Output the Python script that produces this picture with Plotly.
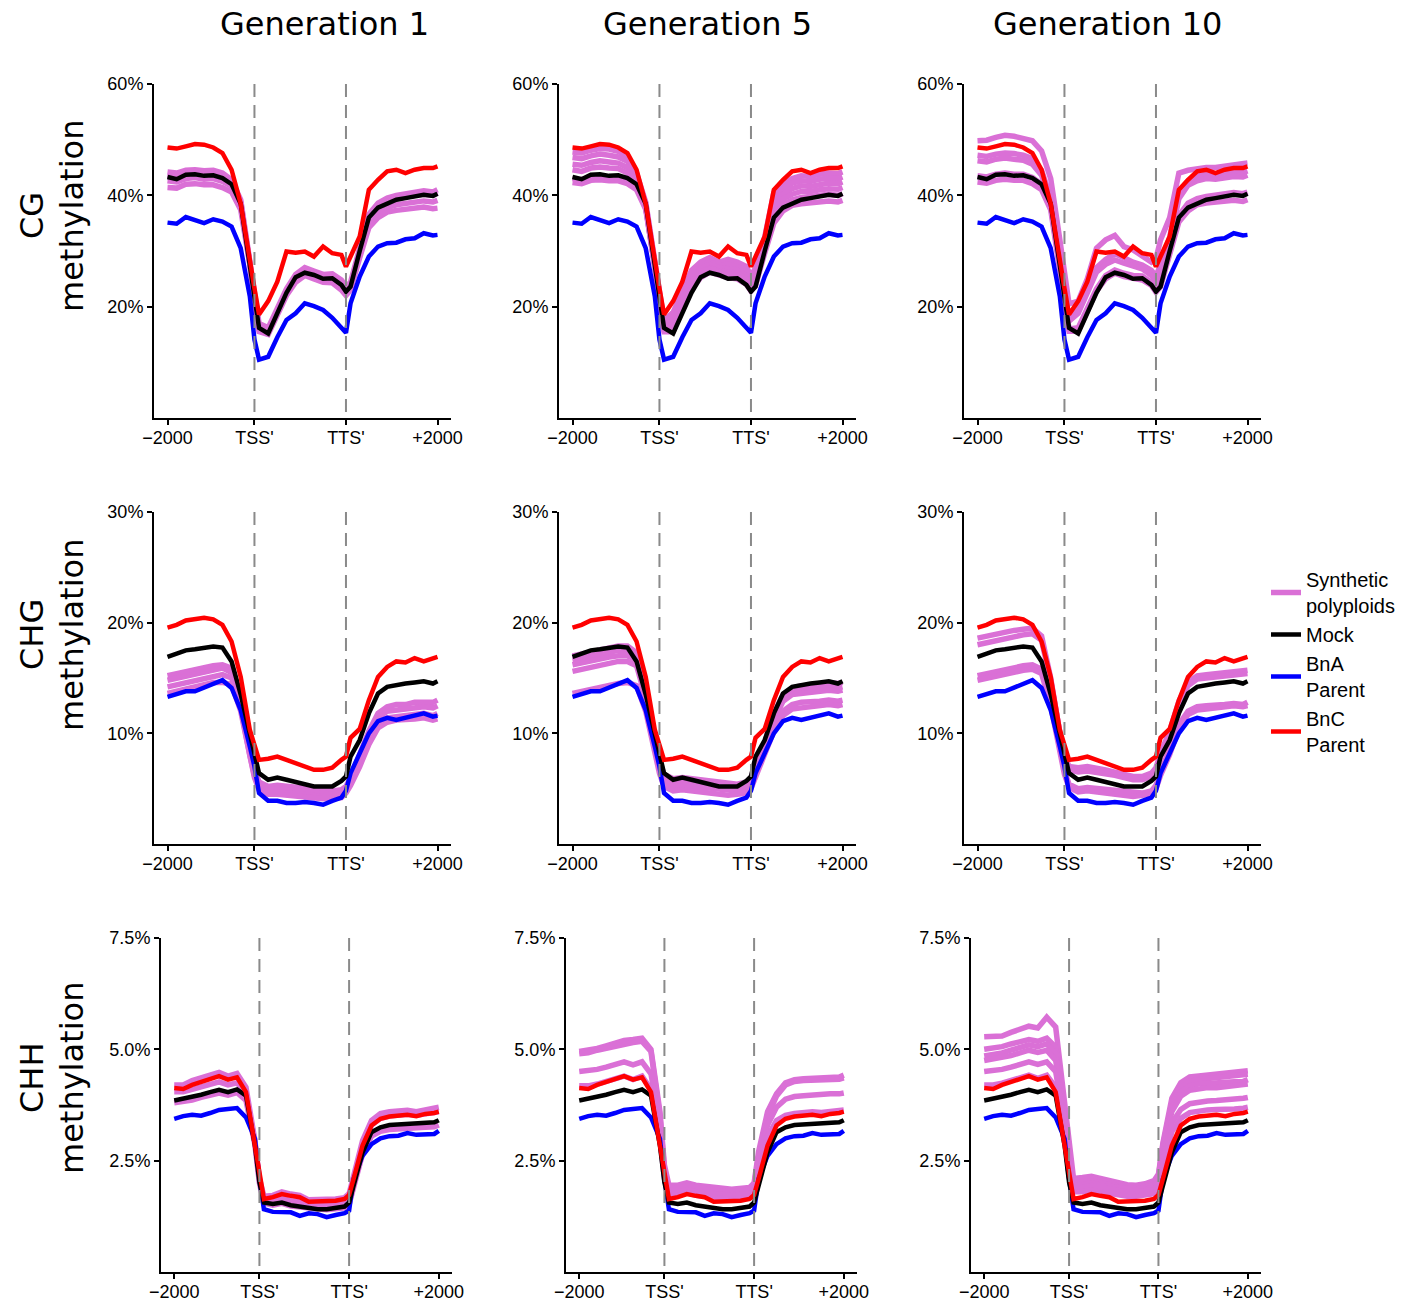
import plotly.graph_objects as go

# ---------------- data ----------------
X_BINS = [1, 3, 5, 7, 9, 11, 13, 15, 17, 19, 20, 21, 23, 25, 27, 29, 31, 33, 35, 37, 39,
          40, 41, 43, 45, 47, 49, 51, 53, 55, 57, 59, 60]
X_TICK_VALS = [1, 20, 40, 60]
X_TICK_TEXT = ["\u22122000", "TSS'", "TTS'", "+2000"]
BOUNDARY_BINS = [20, 40]

GENERATIONS = ["Generation 1", "Generation 5", "Generation 10"]
CONTEXTS = ["CG", "CHG", "CHH"]
Y_MAX = [60, 30, 7.5]
Y_TICK_VALS = [[20, 40, 60], [10, 20, 30], [2.5, 5.0, 7.5]]
Y_TICK_TEXT = [["20%", "40%", "60%"], ["10%", "20%", "30%"], ["2.5%", "5.0%", "7.5%"]]

# CG methylation (%)
CG_BNC = [48.6, 48.4, 48.8, 49.2, 49.1, 48.6, 47.6, 44.6, 38.5, 27.5, 23.3, 18.6, 21.0, 24.5, 29.9, 29.7, 29.9, 29.0, 30.8, 29.6, 29.3,
          27.2, 29.0, 32.6, 41.0, 42.8, 44.3, 44.6, 44.0, 44.6, 44.9, 44.9, 45.2]
CG_MOCK = [43.3, 42.9, 43.7, 43.8, 43.5, 43.6, 43.1, 42.0, 38.5, 27.8, 21.2, 16.2, 15.2, 19.0, 22.5, 25.3, 26.1, 25.7, 25.0, 25.1, 23.9,
           22.7, 23.6, 30.0, 36.0, 37.8, 38.6, 39.2, 39.5, 39.8, 40.1, 39.9, 40.3]
CG_BNA = [35.1, 34.9, 36.1, 35.5, 35.0, 35.7, 35.3, 34.4, 30.5, 21.8, 14.1, 10.5, 11.0, 14.5, 17.6, 18.8, 20.6, 20.1, 19.4, 18.0, 16.2,
          15.3, 20.6, 25.4, 29.0, 30.8, 31.4, 31.5, 32.1, 32.3, 33.2, 32.8, 32.9]
CG_SYN_GEN1 = [
    [44.2, 44.0, 44.5, 44.6, 44.4, 44.5, 44.0, 42.8, 39.2, 28.5, 21.8, 17.0, 16.2, 19.8, 23.2, 25.8, 27.0, 26.4, 25.8, 25.9, 24.8,
     23.6, 24.4, 30.5, 36.6, 38.6, 39.5, 40.0, 40.3, 40.6, 40.8, 40.6, 41.0],
    [43.6, 43.3, 43.9, 44.0, 43.7, 43.8, 43.3, 42.3, 38.8, 28.0, 21.2, 16.4, 15.6, 19.4, 22.8, 25.2, 26.4, 25.9, 25.2, 25.3, 24.1,
     22.9, 23.8, 30.0, 36.2, 38.0, 38.9, 39.4, 39.8, 40.0, 40.2, 40.0, 40.4],
    [42.6, 42.4, 43.0, 43.2, 42.9, 43.0, 42.5, 41.6, 38.2, 27.8, 20.9, 15.9, 15.3, 19.1, 22.4, 24.8, 26.0, 25.4, 24.8, 24.8, 23.6,
     22.5, 23.4, 29.4, 35.0, 36.8, 37.8, 38.3, 38.6, 38.8, 39.0, 38.8, 39.1],
    [41.4, 41.3, 42.0, 42.1, 41.9, 41.9, 41.4, 40.6, 37.4, 27.5, 20.5, 15.5, 15.0, 18.8, 22.0, 24.4, 25.6, 25.0, 24.4, 24.3, 23.0,
     22.0, 23.0, 28.8, 34.2, 36.0, 37.0, 37.3, 37.5, 37.8, 37.9, 37.6, 37.7],
]
CG_SYN_GEN5 = [
    [47.8, 47.6, 48.1, 48.4, 48.3, 47.9, 47.0, 44.0, 38.8, 27.5, 22.0, 17.5, 19.0, 22.5, 26.5, 28.0, 28.8, 28.0, 28.5, 28.0, 27.2,
     25.5, 27.0, 32.5, 40.5, 42.0, 43.0, 43.5, 43.4, 43.8, 44.0, 43.9, 44.2],
    [46.8, 46.6, 47.1, 47.4, 47.2, 46.9, 46.1, 43.5, 38.5, 27.2, 21.5, 17.0, 18.2, 21.8, 25.8, 27.3, 28.0, 27.4, 27.6, 27.2, 26.4,
     24.8, 26.2, 32.0, 39.6, 41.2, 42.2, 42.6, 42.5, 42.9, 43.1, 43.0, 43.3],
    [45.6, 45.4, 45.9, 46.2, 46.0, 45.8, 45.0, 42.8, 38.0, 27.0, 21.0, 16.5, 17.6, 21.2, 25.0, 26.8, 27.6, 27.0, 26.8, 26.6, 25.5,
     24.2, 25.5, 31.4, 38.6, 40.2, 41.2, 41.7, 41.6, 42.0, 42.2, 42.1, 42.4],
    [44.6, 44.3, 44.9, 45.1, 44.9, 44.8, 44.0, 42.2, 37.8, 26.8, 20.8, 16.2, 17.0, 20.6, 24.5, 26.2, 27.0, 26.4, 26.2, 26.0, 25.0,
     23.8, 25.0, 31.0, 37.6, 39.4, 40.2, 40.7, 40.7, 41.0, 41.2, 41.1, 41.4],
    [43.0, 42.8, 43.3, 43.5, 43.3, 43.3, 42.7, 41.5, 37.8, 27.4, 20.4, 15.8, 16.0, 20.0, 23.5, 25.8, 26.8, 26.2, 25.8, 25.6, 24.5,
     23.2, 24.2, 30.2, 36.2, 38.4, 39.2, 39.6, 39.8, 40.0, 40.2, 40.0, 40.3],
    [42.3, 42.1, 42.7, 42.8, 42.6, 42.6, 42.1, 41.0, 37.5, 27.2, 20.2, 15.5, 15.5, 19.6, 23.0, 25.2, 26.2, 25.6, 25.2, 25.0, 24.0,
     22.8, 23.8, 29.6, 35.0, 37.2, 38.2, 38.5, 38.7, 38.9, 39.0, 38.8, 39.1],
]
CG_SYN_GEN10 = [
    [49.8, 49.9, 50.4, 50.8, 50.6, 50.2, 49.8, 48.0, 43.0, 32.0, 26.0, 20.5, 21.0, 25.0, 30.5, 32.0, 32.8, 30.8, 30.2, 29.2, 28.0,
     28.6, 32.0, 36.0, 44.0, 44.5, 44.8, 45.0, 45.0, 45.2, 45.5, 45.6, 45.8],
    [47.2, 47.0, 47.4, 47.6, 47.5, 47.2, 46.6, 44.5, 39.5, 28.0, 22.0, 17.8, 19.5, 23.0, 27.0, 28.5, 29.5, 28.8, 28.0, 27.5, 26.5,
     25.5, 27.5, 32.5, 40.5, 42.6, 43.5, 43.8, 43.7, 44.0, 44.2, 44.1, 44.4],
    [46.2, 46.0, 46.5, 46.7, 46.5, 46.3, 45.6, 43.6, 39.0, 27.6, 21.6, 17.4, 18.8, 22.4, 26.2, 27.6, 28.4, 27.8, 27.2, 26.8, 25.6,
     24.6, 26.5, 31.5, 39.4, 41.8, 42.6, 43.0, 42.9, 43.2, 43.4, 43.3, 43.6],
    [43.5, 43.3, 43.8, 44.0, 43.8, 43.8, 43.2, 42.0, 38.0, 27.5, 20.8, 16.0, 16.2, 19.8, 23.2, 25.6, 26.6, 26.0, 25.6, 25.5, 24.4,
     23.2, 24.2, 30.4, 36.4, 38.6, 39.4, 39.8, 40.0, 40.2, 40.5, 40.3, 40.6],
    [42.4, 42.2, 42.7, 42.9, 42.7, 42.7, 42.1, 41.0, 37.4, 27.0, 20.3, 15.6, 15.6, 19.4, 22.8, 25.0, 26.0, 25.4, 25.0, 24.8, 23.8,
     22.6, 23.6, 29.6, 35.2, 37.2, 38.3, 38.6, 38.8, 39.0, 39.1, 38.9, 39.2],
]

# CHG methylation (%)
CHG_BNC = [19.55, 19.8, 20.2, 20.3, 20.45, 20.3, 19.8, 18.3, 15.1, 10.3, 8.8, 7.6, 7.7, 7.9, 7.6, 7.3, 7.0, 6.7, 6.7, 6.9, 7.6,
           7.9, 9.6, 10.4, 13.0, 15.1, 16.0, 16.5, 16.4, 16.8, 16.5, 16.7, 16.9]
CHG_MOCK = [16.9, 17.2, 17.5, 17.6, 17.75, 17.85, 17.75, 16.5, 13.5, 9.8, 8.2, 6.4, 5.8, 6.0, 5.8, 5.6, 5.5, 5.2, 5.2, 5.2, 5.7,
            6.1, 7.9, 9.4, 11.8, 13.6, 14.2, 14.4, 14.5, 14.6, 14.7, 14.5, 14.7]
CHG_BNA = [13.3, 13.6, 13.8, 13.8, 14.1, 14.4, 14.8, 14.1, 12.1, 8.8, 7.0, 4.6, 3.9, 3.9, 3.7, 3.7, 3.8, 3.7, 3.55, 3.9, 4.2,
           4.8, 6.4, 8.2, 10.0, 11.1, 11.4, 11.2, 11.4, 11.7, 11.8, 11.5, 11.6]
CHG_SYN_GEN1 = [
    [15.2, 15.4, 15.6, 15.8, 16.0, 16.1, 16.2, 15.9, 13.0, 8.5, 6.8, 5.6, 5.2, 5.3, 5.2, 5.1, 5.0, 4.9, 4.8, 4.8, 4.9,
     5.2, 6.0, 8.0, 10.2, 11.8, 12.4, 12.6, 12.6, 12.8, 12.8, 12.8, 13.0],
    [14.8, 15.0, 15.2, 15.4, 15.6, 15.8, 15.9, 15.5, 12.6, 8.3, 6.5, 5.3, 4.9, 5.0, 4.9, 4.8, 4.7, 4.6, 4.5, 4.5, 4.6,
     5.0, 5.8, 7.7, 9.8, 11.4, 12.0, 12.1, 12.2, 12.3, 12.4, 12.3, 12.5],
    [14.2, 14.4, 14.6, 14.8, 15.0, 15.2, 15.3, 15.0, 12.3, 8.0, 6.2, 5.0, 4.6, 4.7, 4.6, 4.5, 4.4, 4.3, 4.3, 4.3, 4.4,
     4.8, 5.5, 7.4, 9.4, 10.9, 11.4, 11.5, 11.6, 11.7, 11.8, 11.6, 11.8],
    [13.6, 13.8, 14.0, 14.1, 14.4, 14.6, 14.6, 14.4, 12.0, 7.8, 6.0, 4.9, 4.5, 4.5, 4.4, 4.3, 4.2, 4.2, 4.1, 4.1, 4.2,
     4.6, 5.3, 7.0, 9.0, 10.5, 11.0, 11.2, 11.2, 11.3, 11.4, 11.2, 11.3],
]
CHG_SYN_GEN5 = [
    [17.0, 17.2, 17.4, 17.6, 17.8, 17.9, 17.9, 17.3, 14.2, 9.5, 7.5, 6.3, 5.9, 6.0, 5.9, 5.8, 5.6, 5.5, 5.4, 5.4, 5.6,
     6.0, 7.2, 9.2, 11.8, 13.5, 14.1, 14.3, 14.3, 14.5, 14.6, 14.5, 14.6],
    [16.6, 16.8, 17.0, 17.2, 17.3, 17.5, 17.5, 17.0, 13.9, 9.3, 7.3, 6.1, 5.7, 5.8, 5.7, 5.6, 5.4, 5.3, 5.2, 5.2, 5.4,
     5.8, 7.0, 9.0, 11.5, 13.2, 13.8, 14.0, 14.0, 14.2, 14.2, 14.1, 14.2],
    [16.2, 16.4, 16.6, 16.8, 16.9, 17.0, 17.0, 16.6, 13.6, 9.1, 7.1, 5.9, 5.5, 5.6, 5.5, 5.4, 5.2, 5.1, 5.0, 5.0, 5.2,
     5.6, 6.8, 8.8, 11.2, 12.9, 13.5, 13.6, 13.7, 13.8, 13.9, 13.8, 13.9],
    [15.6, 15.8, 16.0, 16.2, 16.3, 16.5, 16.5, 16.1, 13.2, 8.9, 6.9, 5.6, 5.2, 5.3, 5.2, 5.1, 5.0, 4.9, 4.8, 4.8, 5.0,
     5.4, 6.5, 8.4, 10.6, 12.0, 12.6, 12.8, 12.8, 12.9, 13.0, 12.9, 13.0],
    [13.6, 13.8, 14.0, 14.1, 14.3, 14.5, 14.6, 14.3, 12.0, 8.2, 6.4, 5.2, 4.8, 4.9, 4.8, 4.7, 4.6, 4.5, 4.4, 4.5, 4.6,
     5.0, 6.0, 8.0, 10.2, 11.6, 12.2, 12.3, 12.4, 12.5, 12.6, 12.5, 12.6],
]
CHG_SYN_GEN10 = [
    [18.6, 18.8, 19.0, 19.2, 19.3, 19.4, 19.5, 18.8, 15.0, 10.0, 8.0, 7.0, 6.9, 7.0, 6.9, 6.7, 6.5, 6.3, 6.1, 6.1, 6.4,
     6.9, 8.2, 10.2, 12.9, 14.6, 15.2, 15.3, 15.4, 15.5, 15.6, 15.6, 15.7],
    [18.0, 18.2, 18.4, 18.6, 18.8, 18.9, 19.0, 18.4, 14.7, 9.8, 7.8, 6.7, 6.5, 6.6, 6.5, 6.3, 6.2, 6.0, 5.8, 5.8, 6.1,
     6.6, 7.9, 9.9, 12.6, 14.3, 14.9, 15.0, 15.1, 15.2, 15.3, 15.3, 15.4],
    [15.2, 15.4, 15.6, 15.8, 16.0, 16.1, 16.2, 15.8, 12.8, 8.4, 6.6, 5.4, 5.0, 5.1, 5.0, 4.9, 4.8, 4.7, 4.6, 4.6, 4.8,
     5.3, 6.5, 8.5, 10.8, 12.0, 12.4, 12.5, 12.5, 12.6, 12.7, 12.6, 12.8],
    [14.8, 15.0, 15.2, 15.4, 15.6, 15.7, 15.8, 15.4, 12.5, 8.2, 6.3, 5.1, 4.7, 4.8, 4.7, 4.6, 4.5, 4.4, 4.3, 4.4, 4.5,
     5.0, 6.2, 8.1, 10.4, 11.7, 12.1, 12.2, 12.3, 12.4, 12.5, 12.4, 12.5],
]

# CHH methylation (%)
CHH_BNC = [4.13, 4.11, 4.2, 4.26, 4.34, 4.4, 4.32, 4.37, 4.04, 2.84, 2.09, 1.64, 1.68, 1.75, 1.71, 1.68, 1.58, 1.58, 1.58, 1.6, 1.64,
           1.73, 2.09, 2.84, 3.29, 3.44, 3.49, 3.51, 3.53, 3.5, 3.55, 3.57, 3.6]
CHH_MOCK = [3.85, 3.89, 3.92, 3.98, 4.04, 4.09, 4.04, 4.1, 3.96, 2.84, 2.01, 1.56, 1.53, 1.56, 1.5, 1.47, 1.45, 1.41, 1.41, 1.45, 1.47,
            1.56, 1.94, 2.69, 3.14, 3.25, 3.3, 3.31, 3.32, 3.32, 3.35, 3.36, 3.41]
CHH_BNA = [3.44, 3.5, 3.53, 3.51, 3.57, 3.64, 3.66, 3.68, 3.47, 2.99, 2.09, 1.41, 1.35, 1.35, 1.34, 1.26, 1.32, 1.3, 1.23, 1.28, 1.32,
           1.38, 2.09, 2.61, 2.87, 3.0, 3.05, 3.06, 3.12, 3.08, 3.1, 3.1, 3.17]
CHH_SYN_GEN1 = [
    [4.2, 4.2, 4.3, 4.35, 4.42, 4.48, 4.4, 4.46, 4.15, 2.95, 2.1, 1.7, 1.72, 1.8, 1.75, 1.72, 1.62, 1.62, 1.62, 1.64, 1.67,
     1.76, 2.15, 2.95, 3.4, 3.56, 3.6, 3.62, 3.63, 3.6, 3.65, 3.67, 3.7],
    [4.05, 4.05, 4.1, 4.15, 4.22, 4.27, 4.2, 4.25, 4.0, 2.9, 2.05, 1.6, 1.6, 1.66, 1.6, 1.58, 1.52, 1.5, 1.5, 1.52, 1.55,
     1.65, 2.05, 2.85, 3.3, 3.45, 3.5, 3.52, 3.54, 3.52, 3.56, 3.58, 3.6],
    [3.8, 3.82, 3.86, 3.92, 3.98, 4.02, 3.97, 4.03, 3.85, 2.85, 2.0, 1.55, 1.5, 1.54, 1.48, 1.46, 1.43, 1.4, 1.4, 1.42, 1.44,
     1.52, 1.9, 2.65, 3.05, 3.16, 3.2, 3.22, 3.22, 3.24, 3.25, 3.26, 3.3],
]
CHH_SYN_GEN5 = [
    [4.95, 4.98, 5.02, 5.08, 5.15, 5.2, 5.22, 5.25, 5.0, 3.6, 2.4, 1.95, 1.95, 2.0, 1.95, 1.92, 1.88, 1.88, 1.86, 1.88, 1.9,
     2.0, 2.7, 3.6, 4.0, 4.25, 4.32, 4.34, 4.35, 4.34, 4.36, 4.38, 4.42],
    [4.9, 4.92, 4.98, 5.03, 5.08, 5.13, 5.15, 5.18, 4.95, 3.5, 2.3, 1.9, 1.88, 1.94, 1.9, 1.86, 1.83, 1.82, 1.8, 1.82, 1.85,
     1.95, 2.6, 3.5, 3.95, 4.2, 4.28, 4.3, 4.3, 4.3, 4.32, 4.33, 4.36],
    [4.5, 4.52, 4.55, 4.6, 4.65, 4.72, 4.65, 4.72, 4.45, 3.3, 2.2, 1.8, 1.8, 1.85, 1.8, 1.78, 1.75, 1.74, 1.72, 1.74, 1.76,
     1.86, 2.45, 3.3, 3.7, 3.88, 3.94, 3.96, 3.98, 3.98, 4.0, 4.0, 4.02],
    [4.18, 4.18, 4.22, 4.28, 4.35, 4.4, 4.32, 4.4, 4.1, 3.0, 2.1, 1.72, 1.72, 1.78, 1.72, 1.7, 1.65, 1.64, 1.63, 1.65, 1.68,
     1.78, 2.25, 3.05, 3.4, 3.52, 3.56, 3.58, 3.6, 3.58, 3.6, 3.62, 3.64],
]
CHH_SYN_GEN10 = [
    [5.28, 5.28, 5.3, 5.38, 5.45, 5.52, 5.48, 5.72, 5.5, 3.8, 2.7, 2.1, 2.12, 2.15, 2.1, 2.05, 1.98, 1.96, 1.95, 1.98, 2.05,
     2.2, 2.9, 3.9, 4.25, 4.38, 4.4, 4.42, 4.42, 4.45, 4.47, 4.48, 4.52],
    [5.0, 5.02, 5.06, 5.12, 5.18, 5.22, 5.18, 5.25, 5.05, 3.6, 2.5, 2.05, 2.08, 2.1, 2.05, 2.0, 1.95, 1.93, 1.92, 1.94, 2.0,
     2.15, 2.85, 3.8, 4.15, 4.28, 4.32, 4.34, 4.34, 4.36, 4.38, 4.4, 4.44],
    [4.85, 4.88, 4.92, 4.98, 5.05, 5.1, 5.06, 5.12, 4.9, 3.5, 2.45, 2.0, 2.02, 2.05, 2.0, 1.96, 1.92, 1.9, 1.88, 1.9, 1.96,
     2.1, 2.8, 3.7, 4.05, 4.18, 4.22, 4.24, 4.24, 4.25, 4.27, 4.28, 4.32],
    [4.75, 4.78, 4.8, 4.86, 4.92, 4.98, 4.93, 4.98, 4.75, 3.4, 2.4, 1.95, 1.96, 2.0, 1.95, 1.92, 1.88, 1.86, 1.85, 1.86, 1.9,
     2.05, 2.7, 3.6, 3.95, 4.08, 4.12, 4.14, 4.14, 4.16, 4.18, 4.2, 4.22],
    [4.5, 4.52, 4.55, 4.6, 4.66, 4.72, 4.66, 4.72, 4.5, 3.3, 2.3, 1.9, 1.9, 1.94, 1.9, 1.86, 1.82, 1.8, 1.8, 1.82, 1.85,
     1.98, 2.55, 3.35, 3.65, 3.78, 3.82, 3.84, 3.85, 3.86, 3.88, 3.9, 3.92],
    [4.2, 4.2, 4.24, 4.3, 4.36, 4.42, 4.35, 4.42, 4.15, 3.1, 2.15, 1.8, 1.8, 1.84, 1.8, 1.76, 1.72, 1.7, 1.7, 1.72, 1.76,
     1.88, 2.4, 3.15, 3.45, 3.58, 3.62, 3.64, 3.65, 3.64, 3.66, 3.68, 3.7],
]

MOCK = [CG_MOCK, CHG_MOCK, CHH_MOCK]
BNA = [CG_BNA, CHG_BNA, CHH_BNA]
BNC = [CG_BNC, CHG_BNC, CHH_BNC]
SYNTHETIC = [[CG_SYN_GEN1, CG_SYN_GEN5, CG_SYN_GEN10],
             [CHG_SYN_GEN1, CHG_SYN_GEN5, CHG_SYN_GEN10],
             [CHH_SYN_GEN1, CHH_SYN_GEN5, CHH_SYN_GEN10]]

# ---------------- layout / style ----------------
W, H = 1404, 1303
ROW_PX = [(84, 418), (512, 844), (938, 1272)]          # top, bottom of each panel row
COL_PX = [[(154, 451), (559, 856), (964, 1261)],
          [(154, 451), (559, 856), (964, 1261)],
          [(161, 452), (566, 857), (971, 1261)]]
X_RANGE = [-1.95, 62.95]
TITLE_X_PX = [324, 707, 1107]
ROW_LABEL_Y_PX = [216, 635, 1078]

PINK, BLACK, BLUE, RED = "#DA70D6", "#000000", "#0000FF", "#FF0000"
TICK_FONT = dict(family="Liberation Sans, Arial, sans-serif", size=18, color="black")
LABEL_FONT = dict(family="DejaVu Sans, sans-serif", size=32, color="black")

fig = go.Figure()
layout = dict(width=W, height=H, margin=dict(l=0, r=0, t=0, b=0, autoexpand=False),
              paper_bgcolor="white", plot_bgcolor="white", showlegend=True)
shapes, annotations = [], []
legend_done = set()


def add_line(y, color, width, name, rank, xa, ya):
    show = name not in legend_done
    legend_done.add(name)
    fig.add_trace(go.Scatter(x=X_BINS, y=y, mode="lines", name=name,
                             line=dict(color=color, width=width),
                             legendgroup=name, showlegend=show, legendrank=rank,
                             xaxis=xa, yaxis=ya, hoverinfo="skip"))


for r in range(3):
    top, bot = ROW_PX[r]
    for c in range(3):
        i = r * 3 + c + 1
        left, right = COL_PX[r][c]
        suffix = "" if i == 1 else str(i)
        xa, ya = "x" + suffix, "y" + suffix
        layout["xaxis" + suffix] = dict(domain=[left / W, right / W], range=X_RANGE, anchor=ya,
                                        automargin=False, ticklabelstandoff=-3,
                                        showline=True, linecolor="black", linewidth=2,
                                        ticks="outside", ticklen=5, tickwidth=1.5, tickcolor="black",
                                        tickvals=X_TICK_VALS, ticktext=X_TICK_TEXT, tickfont=TICK_FONT,
                                        showgrid=False, zeroline=False, fixedrange=True)
        layout["yaxis" + suffix] = dict(domain=[1 - bot / H, 1 - top / H], range=[0, Y_MAX[r]], anchor=xa,
                                        automargin=False,
                                        showline=True, linecolor="black", linewidth=2,
                                        ticks="outside", ticklen=5, tickwidth=1.5, tickcolor="black",
                                        tickvals=Y_TICK_VALS[r], ticktext=Y_TICK_TEXT[r], tickfont=TICK_FONT,
                                        showgrid=False, zeroline=False, fixedrange=True)
        for syn in SYNTHETIC[r][c]:
            add_line(syn, PINK, 5.5, "Synthetic<br>polyploids", 1, xa, ya)
        add_line(BNA[r], BLUE, 4.5, "BnA<br>Parent", 3, xa, ya)
        add_line(MOCK[r], BLACK, 4.5, "Mock", 2, xa, ya)
        add_line(BNC[r], RED, 4.5, "BnC<br>Parent", 4, xa, ya)
        for b in BOUNDARY_BINS:
            shapes.append(dict(type="line", xref=xa, yref=ya + " domain", x0=b, x1=b, y0=1, y1=0,
                               line=dict(color="#8a8a8a", width=2, dash="13px,8px"), layer="above"))

for c, g in enumerate(GENERATIONS):
    annotations.append(dict(text=g, x=TITLE_X_PX[c] / W, y=1 - 24 / H, xref="paper", yref="paper",
                            xanchor="center", yanchor="middle", showarrow=False, font=LABEL_FONT))
for r, ctx in enumerate(CONTEXTS):
    yc = 1 - ROW_LABEL_Y_PX[r] / H
    annotations.append(dict(text=ctx, x=32 / W, y=yc, xref="paper", yref="paper", textangle=-90,
                            xanchor="center", yanchor="middle", showarrow=False, font=LABEL_FONT))
    annotations.append(dict(text="methylation", x=72 / W, y=yc, xref="paper", yref="paper", textangle=-90,
                            xanchor="center", yanchor="middle", showarrow=False, font=LABEL_FONT))

layout["shapes"] = shapes
layout["annotations"] = annotations
layout["legend"] = dict(x=1266 / W, y=1 - 560 / H, xanchor="left", yanchor="top",
                        bgcolor="rgba(0,0,0,0)", tracegroupgap=0,
                        font=dict(family="Liberation Sans, Arial", size=20, color="black"))
fig.update_layout(**layout)
fig.write_html("out.html", config={"displayModeBar": False},
               post_script="document.body.style.margin='0px';")
